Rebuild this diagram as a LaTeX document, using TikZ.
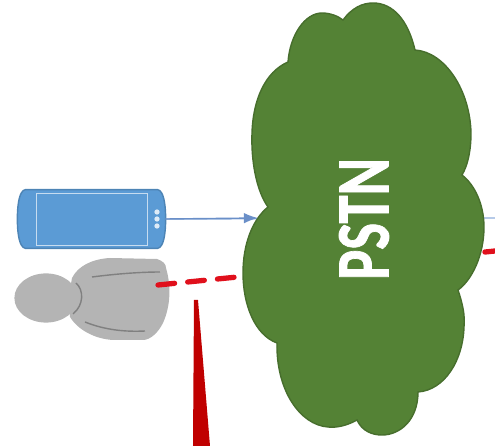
\documentclass[tikz,border=0pt]{standalone}
\usepackage{fontspec}
\usepackage{xcolor}
\newfontfamily\cloudfont[FakeBold=1.2]{Carlito Bold}
\usetikzlibrary{positioning,calc,arrows.meta,shapes.geometric}
\definecolor{cloudgreen}{HTML}{548235}
\definecolor{phoneblue}{HTML}{5B9BD5}
\definecolor{linkblue}{HTML}{8FAEDC}
\definecolor{tipblue}{HTML}{6A8FC8}
\definecolor{persongray}{HTML}{B4B4B4}
\definecolor{wedgered}{HTML}{C00000}
\definecolor{voicered}{HTML}{E0101C}
\tikzset{
  phonebox/.style={minimum width=84pt,minimum height=33pt,inner sep=0pt},
  screenbox/.style={draw=white!65!phoneblue,line width=.7pt,minimum width=63pt,minimum height=30pt,inner sep=0pt},
  phonedot/.style={circle,fill=white!80!phoneblue,minimum size=3pt,inner sep=0pt},
  headnode/.style={ellipse,fill=persongray,minimum width=36pt,minimum height=28pt,inner sep=0pt},
  voiceline/.style={voicered,line width=3pt,dash pattern=on 9.5pt off 7.5pt,line cap=round},
  dataline/.style={linkblue,line width=.8pt},
  fold/.style={black!50,line width=.8pt}
}
\begin{document}
\begin{tikzpicture}[x=0.02cm,y=-0.02cm]
\useasboundingbox (0,0) rectangle (495,446);
\clip (0,0) rectangle (495,446);

% far ends behind the cloud
\coordinate (RIGHTBLUE) at (495,218);
\coordinate (RIGHTRED) at (495,251);
\coordinate (CLOUDW) at (258,218);

% person
\node [headnode] (HEAD) at (46,298) {};
\fill [persongray] (72,278) .. controls (78,266) and (92,259) .. (110,258)
  -- (157,259) .. controls (163,261) and (166,264) .. (166,268)
  .. controls (171,285) and (171,305) .. (163,323)
  .. controls (158,333) and (150,340) .. (143,340)
  -- (113,340) .. controls (95,339) and (78,330) .. (70,317)
  -- (70,290) -- cycle;
\draw [fold] (76,283) .. controls (84,290) and (84,305) .. (73,314);
\draw [fold] (92,277) .. controls (115,274) and (140,272) .. (160,272);
\draw [fold] (85,322) .. controls (105,330) and (125,332) .. (145,331);
\coordinate (MOUTH) at (158,285);

% phone
\node [phonebox] (PHONE) at (91.5,219) {};
\filldraw [fill=phoneblue,draw=phoneblue!85!black,line width=.8pt]
  (PHONE.north west) ++(8,0) -- ($(PHONE.north east)+(-8,0)$)
  .. controls ($(PHONE.north east)+(-2,1)$) and ($(PHONE.east)+(0,-15)$) .. (PHONE.east)
  .. controls ($(PHONE.east)+(0,15)$) and ($(PHONE.south east)+(-2,-1)$) .. ($(PHONE.south east)+(-8,0)$)
  -- ($(PHONE.south west)+(8,0)$)
  .. controls ($(PHONE.south west)+(2,-1)$) and ($(PHONE.west)+(0,15)$) .. (PHONE.west)
  .. controls ($(PHONE.west)+(0,-15)$) and ($(PHONE.north west)+(2,1)$) .. ($(PHONE.north west)+(8,0)$) -- cycle;
\node [screenbox] (SCREEN) at (92,219.5) {};
\node [phonedot] (DOTA) at (157,212) {};
\node [phonedot] (DOTB) at (157,219) {};
\node [phonedot] (DOTC) at (157,226) {};

\draw [voiceline] (MOUTH) -- (RIGHTRED);
\draw [dataline] (PHONE.east) -- (RIGHTBLUE);

% cloud
\filldraw [fill=cloudgreen,draw=cloudgreen!85!black,line width=.8pt]
  (343,20) .. controls (352,8) and (362,3) .. (373,3)
  .. controls (393,3) and (408,20) .. (415,50)
  .. controls (445,52) and (470,90) .. (471,133)
  .. controls (471,150) and (468,165) .. (462,175)
  .. controls (475,185) and (484,205) .. (484,227)
  .. controls (484,255) and (472,280) .. (458,290)
  .. controls (463,305) and (465,315) .. (464,327)
  .. controls (463,360) and (445,390) .. (418,392)
  .. controls (418,420) and (400,435) .. (382,435)
  .. controls (372,435) and (362,431) .. (357,420)
  .. controls (348,425) and (338,428) .. (328,427)
  .. controls (300,425) and (276,390) .. (277,343)
  .. controls (255,335) and (243,305) .. (243,273)
  .. controls (243,245) and (252,220) .. (268,207)
  .. controls (256,190) and (251,160) .. (252,133)
  .. controls (253,100) and (265,72) .. (288,62)
  .. controls (290,35) and (305,13) .. (322,13)
  .. controls (330,13) and (338,16) .. (343,20) -- cycle;
\node [rotate=90,xscale=.75,transform shape,text=white,font=\cloudfont\fontsize{43}{43}\selectfont,inner sep=0pt] (PSTN) at (364,219) {PSTN};

\draw [dataline,tipblue,-{Latex[length=8pt,width=6pt]}] (PHONE.east) -- (CLOUDW);

% wedge
\fill [wedgered] (194,300) -- (198,300) -- (210,446) -- (193,446) -- cycle;

\end{tikzpicture}
\end{document}
